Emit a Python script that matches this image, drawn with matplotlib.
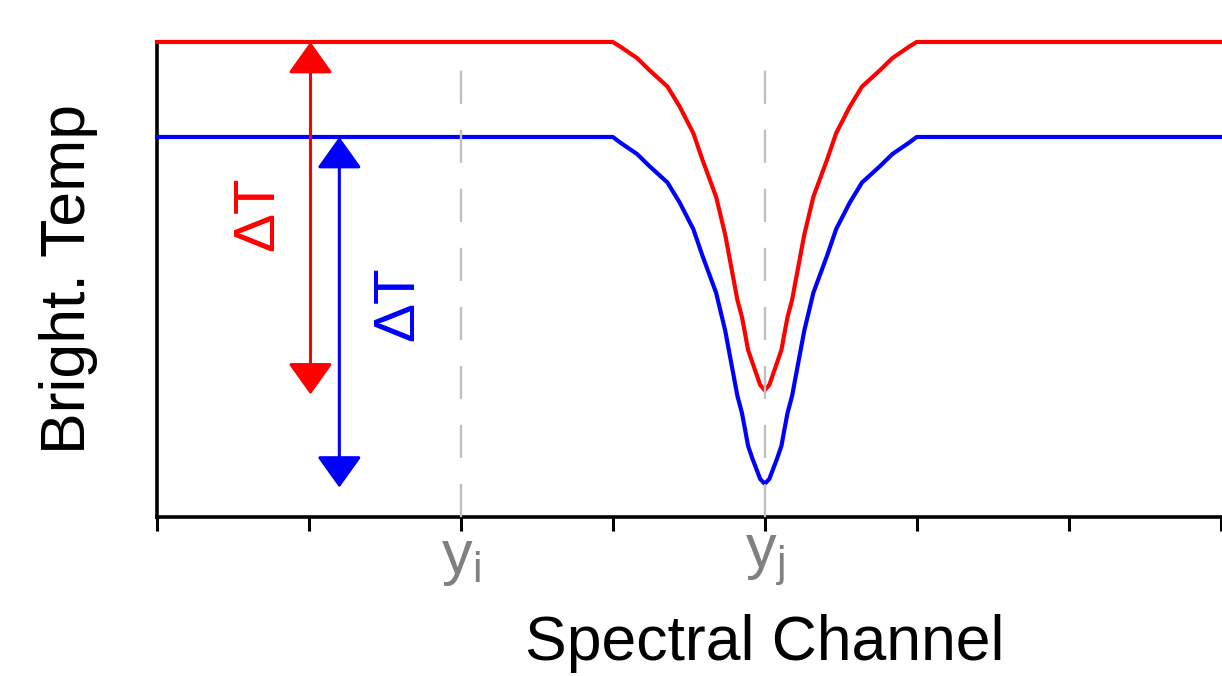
#Schematic of brightness temperature dip vs spectral channel
import numpy as np
import matplotlib as mpl
import matplotlib.pyplot as plt

mpl.rcParams["font.family"] = ["Liberation Sans", "DejaVu Sans"]
mpl.rcParams["mathtext.fontset"] = "custom"
mpl.rcParams["mathtext.rm"] = "Liberation Sans"

#curve data (x in channel units, y in arbitrary temp units)
chan_x = [0.0, 3.0, 3.05, 3.16, 3.24, 3.36, 3.44, 3.53, 3.59, 3.68, 3.74, 3.82, 3.85,
          3.87, 3.89, 3.92, 3.97, 4.0, 4.03, 4.08, 4.11, 4.13, 4.15, 4.18, 4.26,
          4.32, 4.41, 4.47, 4.56, 4.64, 4.76, 4.84, 4.95, 5.0, 7.0]
red_temp = [10.0, 10.0, 9.90, 9.66, 9.41, 9.06, 8.64, 8.08, 7.52, 6.74, 5.94, 4.57, 4.21,
            3.87, 3.52, 3.24, 2.78, 2.67, 2.78, 3.24, 3.52, 3.87, 4.21, 4.57, 5.94,
            6.74, 7.52, 8.08, 8.64, 9.06, 9.41, 9.66, 9.90, 10.0, 10.0]
blue_temp = [8.0, 8.0, 7.88, 7.64, 7.39, 7.04, 6.62, 6.06, 5.50, 4.72, 3.92, 2.55, 2.19,
             1.85, 1.50, 1.22, 0.80, 0.70, 0.80, 1.22, 1.50, 1.85, 2.19, 2.55, 3.92,
             4.72, 5.50, 6.06, 6.62, 7.04, 7.39, 7.64, 7.88, 8.0, 8.0]

tick_pos = [0, 1, 2, 3, 4, 5, 6, 7]
tick_lab = ["", "", r"$\mathregular{y_i}$", "", r"$\mathregular{y_j}$", "", "", ""]
ref_chan = [2, 4]

#arrow positions (channel) and their ends (temp)
red_arrow_x = 1.01
blue_arrow_x = 1.2
red_span = [10.0, 2.58]
blue_span = [8.0, 0.62]

fig = plt.figure(figsize=(12.22, 6.76), dpi=100)
ax = fig.add_axes([0.1285, 0.2352, 0.8703, 0.7027])

for xc in ref_chan:
    ax.plot([xc, xc], [0, 9.6], color="#c0c0c0", lw=1.7, dashes=(14, 11), zorder=5)

ax.plot(chan_x, red_temp, color="red", lw=3.0, clip_on=False, zorder=3)
ax.plot(chan_x, blue_temp, color="blue", lw=3.0, clip_on=False, zorder=3)

astyle = "<|-|>,head_length=0.7,head_width=0.5"
ax.annotate("", xy=(red_arrow_x, red_span[1]), xytext=(red_arrow_x, red_span[0]),
            arrowprops=dict(arrowstyle=astyle, color="red", lw=2.2, mutation_scale=28,
                            shrinkA=0, shrinkB=0), zorder=4)
ax.annotate("", xy=(blue_arrow_x, blue_span[1]), xytext=(blue_arrow_x, blue_span[0]),
            arrowprops=dict(arrowstyle=astyle, color="blue", lw=2.2, mutation_scale=28,
                            shrinkA=0, shrinkB=0), zorder=4)

ax.text(0.68, 6.35, r"$\mathregular{\Delta T}$", color="red", fontsize=42, rotation=90,
        ha="center", va="center")
ax.text(1.6, 4.45, r"$\mathregular{\Delta T}$", color="blue", fontsize=42, rotation=90,
        ha="center", va="center")

ax.set_xlim(0, 7)
ax.set_ylim(0, 10)
ax.set_xticks(tick_pos)
ax.set_xticklabels(tick_lab, color="#808080", fontsize=44)
ax.tick_params(axis="x", direction="out", length=10, width=2.2, pad=0)
ax.set_yticks([])
for s in ["top", "right"]:
    ax.spines[s].set_visible(False)
ax.spines["left"].set_linewidth(2.6)
ax.spines["bottom"].set_linewidth(2.6)

ax.set_xlabel("Spectral Channel", fontsize=45)
ax.xaxis.set_label_coords(4 / 7, -0.205)
ax.set_ylabel("Bright. Temp", fontsize=45)
ax.yaxis.set_label_coords(-0.0556, 0.5)

fig.savefig("out.png", dpi=100)
